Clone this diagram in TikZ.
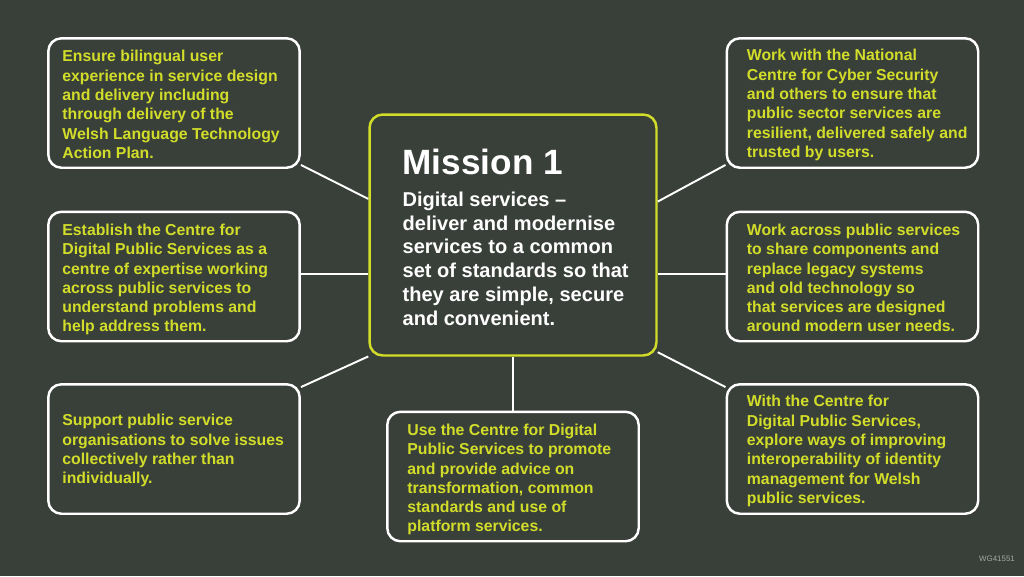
\documentclass[tikz,border=0pt]{standalone}
\usepackage{fontspec}
\setmainfont{Liberation Sans}
\definecolor{bg}{RGB}{57,64,58}
\definecolor{lime}{RGB}{210,221,42}
\begin{document}
\begin{tikzpicture}[x=0.02cm,y=-0.02cm,
        box/.style={draw=white,line width=1.4pt,rounded corners=7.5pt,minimum width=5.03cm,minimum height=2.59cm},
        txt/.style={text=lime,font=\bfseries\fontsize{9}{11}\selectfont,align=left,inner sep=0pt,anchor=north west},
        link/.style={draw=white,line width=1.1pt}]
        \fill[bg](0,0)rectangle(1024,576);
        % centre
        \node[box,draw=lime,minimum width=5.74cm,minimum height=4.82cm](mis)at(513,235){};
        \node[anchor=north west,inner sep=0pt,text=white,font=\bfseries\fontsize{20}{22}\selectfont](title)at([shift={(34,35)}]mis.north west){Mission 1};
        \node[anchor=north west,inner sep=0pt,text=white,align=left,font=\bfseries\fontsize{11.4}{13.6}\selectfont](goal)at([shift={(34,78)}]mis.north west){Digital services --\\deliver and modernise\\services to a common\\set of standards so that\\they are simple, secure\\and convenient.};
        % boxes
        \node[box](tl)at(174,103){};
        \node[box](ml)at(174,276.5){};
        \node[box](bl)at(174,449){};
        \node[box](bc)at(513,476.5){};
        \node[box](tr)at(852.5,103){};
        \node[box](mr)at(852.5,276.5){};
        \node[box](br)at(852.5,449){};
        \node[txt](tltxt)at([shift={(15,13)}]tl.north west){Ensure bilingual user\\experience in service design\\and delivery including\\through delivery of the\\Welsh Language Technology\\Action Plan.};
        \node[txt](mltxt)at([shift={(15,13)}]ml.north west){Establish the Centre for\\Digital Public Services as a\\centre of expertise working\\across public services to\\understand problems and\\help address them.};
        \node[txt](bltxt)at([shift={(15,31)}]bl.north west){Support public service\\organisations to solve issues\\collectively rather than\\individually.};
        \node[txt](bctxt)at([shift={(21,13)}]bc.north west){Use the Centre for Digital\\Public Services to promote\\and provide advice on\\transformation, common\\standards and use of\\platform services.};
        \node[txt](trtxt)at([shift={(21,12)}]tr.north west){Work with the National\\Centre for Cyber Security\\and others to ensure that\\public sector services are\\resilient, delivered safely and\\trusted by users.};
        \node[txt](mrtxt)at([shift={(21,13)}]mr.north west){Work across public services\\to share components and\\replace legacy systems\\and old technology so\\that services are designed\\around modern user needs.};
        \node[txt](brtxt)at([shift={(21,12)}]br.north west){With the Centre for\\Digital Public Services,\\explore ways of improving\\interoperability of identity\\management for Welsh\\public services.};
        % links
        \draw[link](tl.-26)--(mis.166);
        \draw[link](ml.east|-0,274)--(mis.west|-0,274);
        \draw[link](bl.26)--(mis.220);
        \draw[link](bc.north)--(bc.north|-mis.south);
        \draw[link](tr.206)--(mis.13);
        \draw[link](mr.west|-0,274)--(mis.east|-0,274);
        \draw[link](br.154)--(mis.-39);
        \node[text=gray!70,font=\fontsize{4.5}{5}\selectfont](code)at(997,559){WG41551};
    \end{tikzpicture}
\end{document}
